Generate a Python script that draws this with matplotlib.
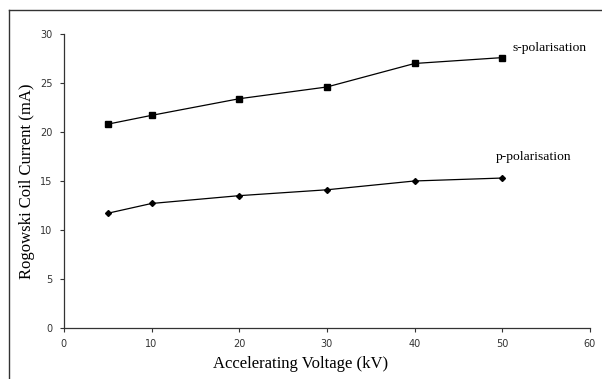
import numpy as np
import matplotlib.pyplot as plt
from matplotlib.lines import Line2D

voltage = [5, 10, 20, 30, 40, 50]
s_pol = [20.8, 21.7, 23.4, 24.6, 27.0, 27.6]
p_pol = [11.7, 12.7, 13.5, 14.1, 15.0, 15.3]

fig = plt.figure(figsize=(6.02, 3.79), dpi=100)
ax = fig.add_axes([0.106, 0.135, 0.874, 0.775])

ax.plot(voltage, s_pol, color='black', lw=0.9, marker='s', ms=4)
ax.plot(voltage, p_pol, color='black', lw=0.9, marker='D', ms=3)

ax.set_xlim(0, 60)
ax.set_ylim(0, 30)
ax.set_xticks(range(0, 61, 10))
ax.set_yticks(range(0, 31, 5))
for side in ['top', 'right']:
    ax.spines[side].set_visible(False)
for side in ['left', 'bottom']:
    ax.spines[side].set_color('#333333')
    ax.spines[side].set_linewidth(0.9)
ax.tick_params(direction='out', length=3, width=0.8, labelsize=7,
               labelcolor='#333333', color='#333333', pad=5)

serif = 'Liberation Serif'
ax.set_xlabel('Accelerating Voltage (kV)', family=serif, fontsize=12)
ax.set_ylabel('Rogowski Coil Current (mA)', family=serif, fontsize=12)
ax.xaxis.set_label_coords(0.45, -0.095)
ax.yaxis.set_label_coords(-0.055, 0.5)

ax.text(51.2, 28.6, 's-polarisation', family=serif, fontsize=9.7, va='center')
ax.text(49.3, 17.4, 'p-polarisation', family=serif, fontsize=9.7, va='center')

# outer frame (left and top edges only, like the cropped original)
fig.add_artist(Line2D([0.015, 0.015], [0, 0.974], transform=fig.transFigure,
                      color='#333333', lw=1))
fig.add_artist(Line2D([0.015, 1.0], [0.974, 0.974], transform=fig.transFigure,
                      color='#333333', lw=1))

fig.savefig('out.png', dpi=100)
